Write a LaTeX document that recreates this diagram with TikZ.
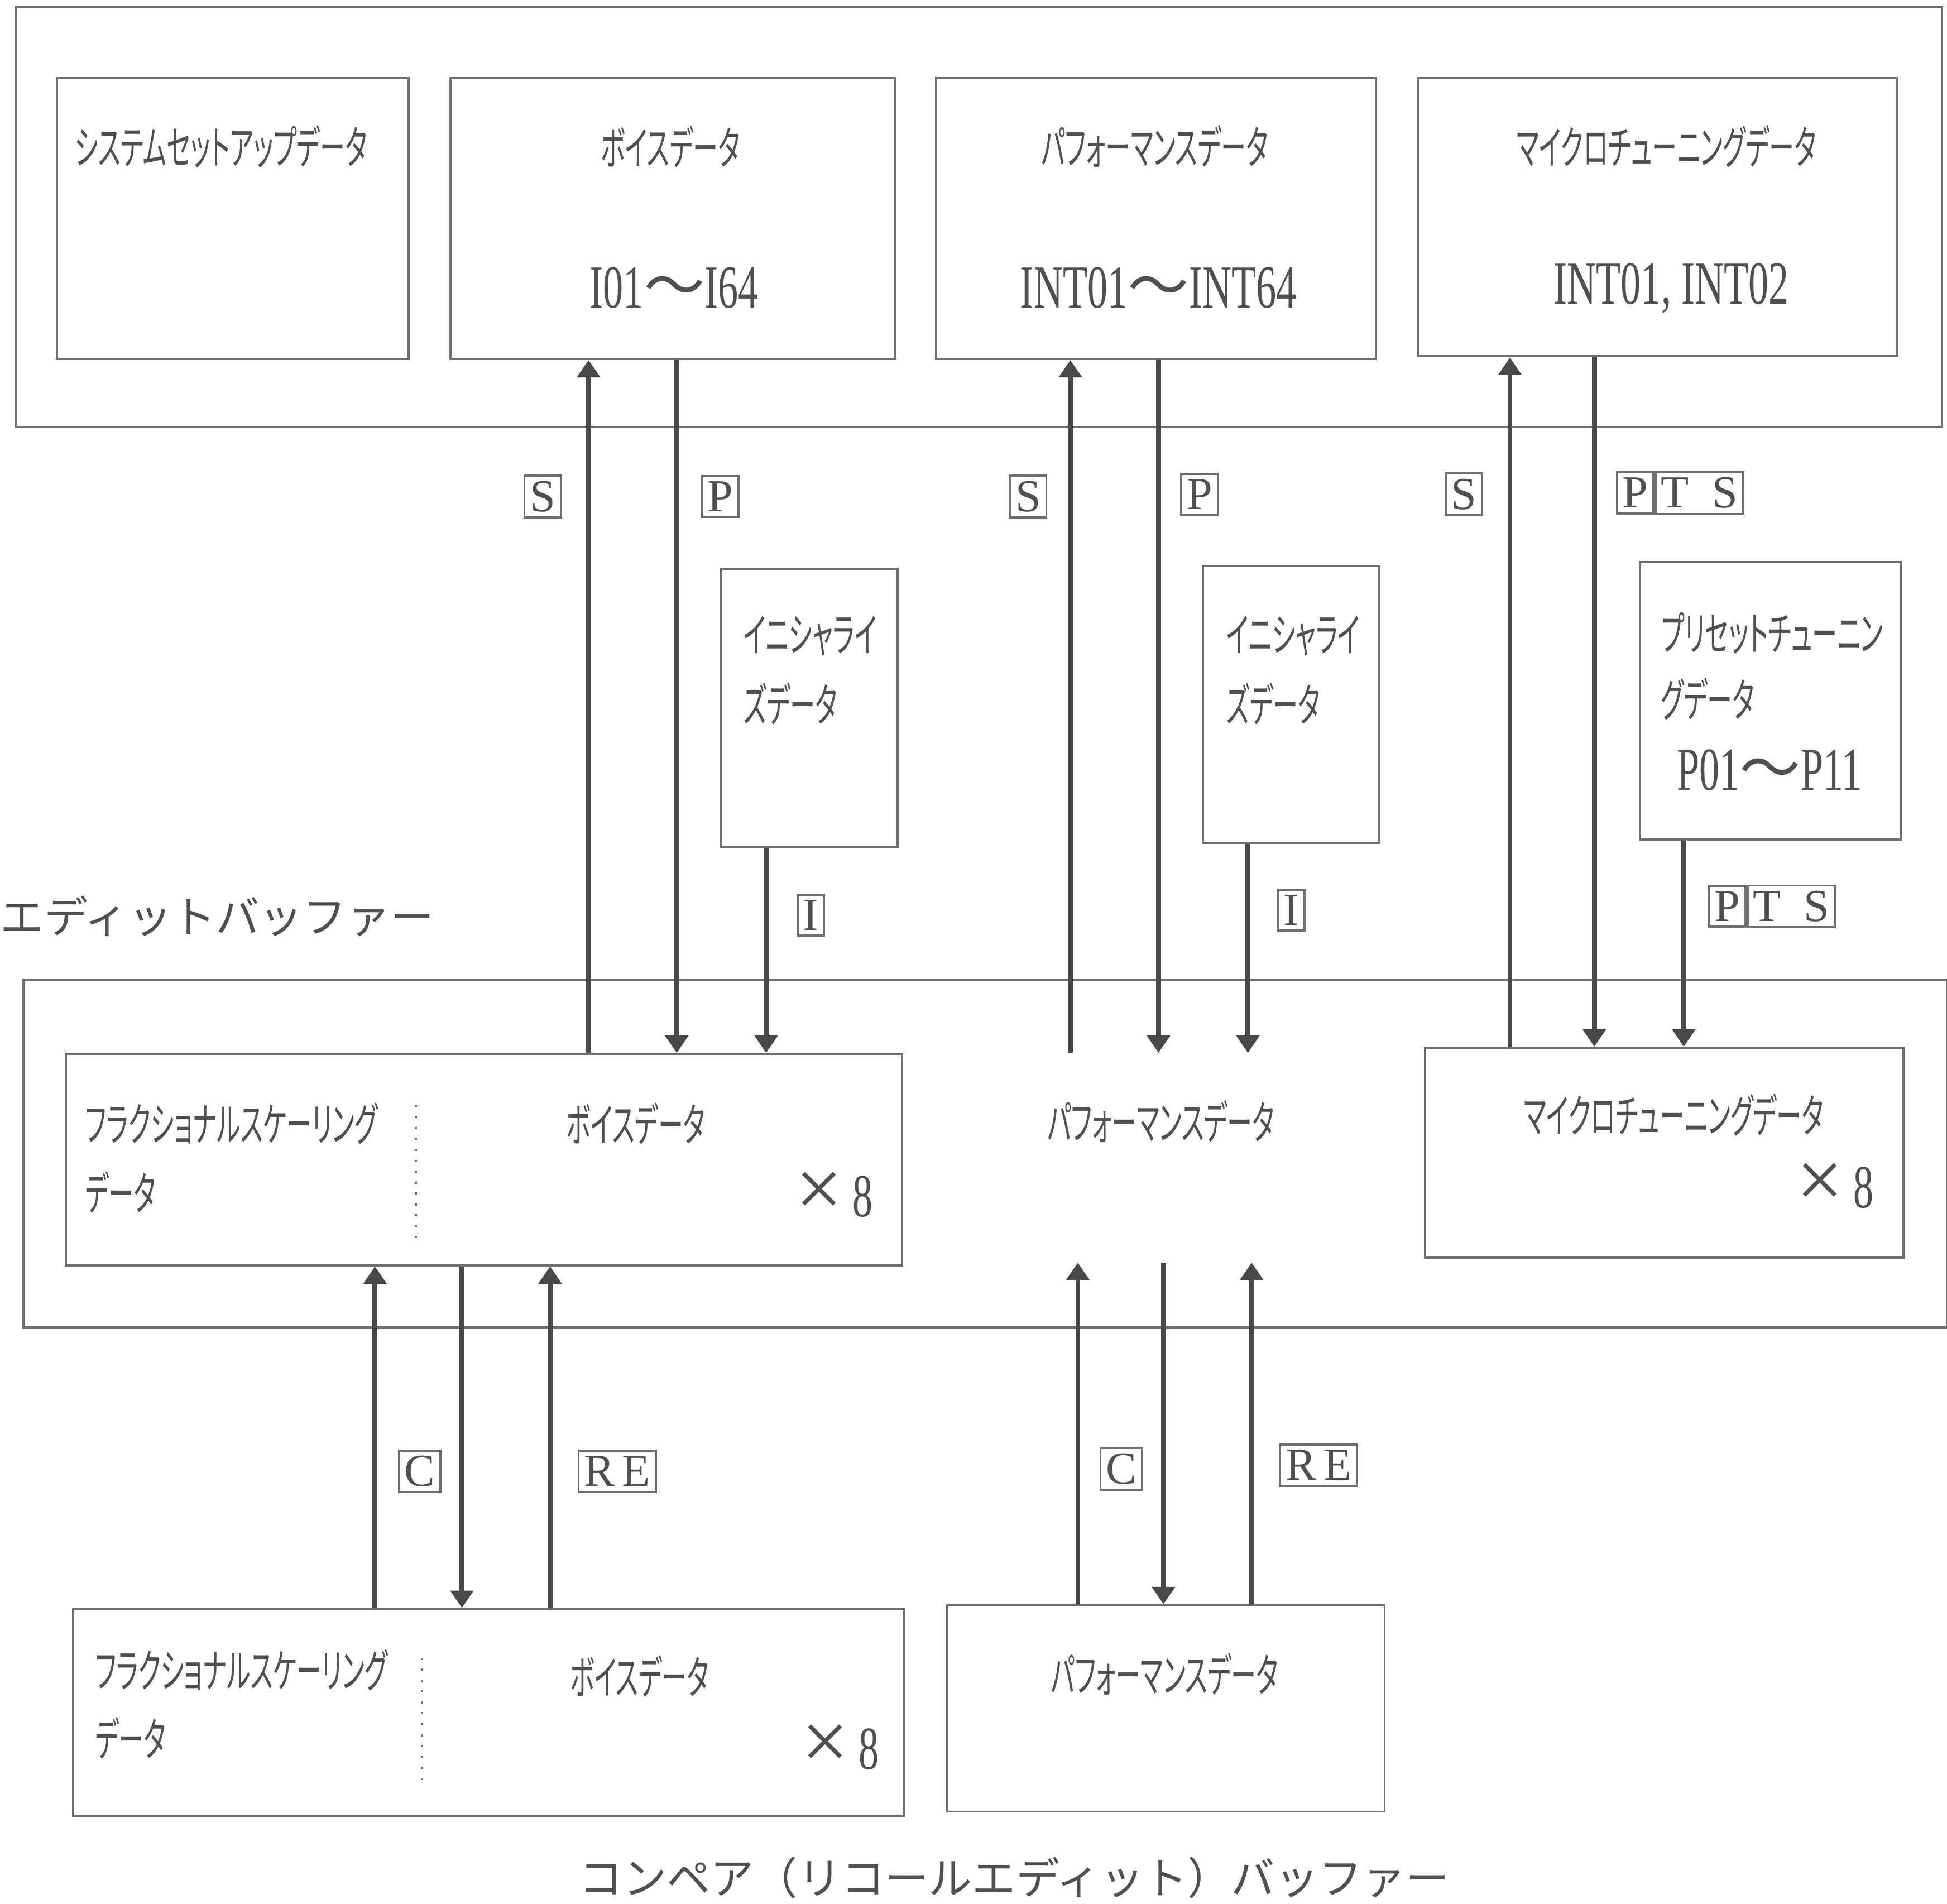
\documentclass[tikz,border=0pt]{standalone}
\usepackage{fontspec}
\usepackage{xcolor}
\usepackage{tikz}
\usetikzlibrary{arrows.meta}
\usetikzlibrary{positioning}

\newfontfamily\jpn{Noto Sans CJK JP}
\newfontfamily\jpnc[FakeStretch=0.55,RawFeature=+palt]{Noto Sans CJK JP}
\newfontfamily\numc[FakeStretch=0.66]{Liberation Serif}
\newfontfamily\keyf{Liberation Serif}

\definecolor{ink}{HTML}{4F4F4F}
\definecolor{edge}{HTML}{6E6E6E}
\definecolor{shaft}{HTML}{484848}

\setlength{\fboxsep}{1pt}
\setlength{\fboxrule}{0.5pt}
\newcommand{\kb}[1]{\fcolorbox{edge}{white}{#1}}
\newcommand{\rng}[2]{{\numc #1}{\jpn ～}{\numc #2}}
\newcommand{\byeight}{{\keyf\fontsize{19}{20}\selectfont ×}\,{\numc 8}}

\tikzset{
  box/.style={draw=edge, line width=0.5pt, anchor=north west, inner sep=0pt},
  flow/.style={-{Triangle[width=0.18cm,length=0.14cm]}, draw=shaft, line width=1.1pt},
  jp/.style={text=ink, inner sep=0pt, font=\jpnc\fontsize{10.5}{12}\selectfont},
  num/.style={text=ink, inner sep=0pt, font=\fontsize{14}{15}\selectfont},
  key/.style={text=ink, inner sep=0pt, font=\keyf\fontsize{10.5}{11}\selectfont},
  title/.style={text=ink, inner sep=0pt, font=\jpn\fontsize{10}{12}\selectfont},
  sep/.style={draw=edge, dotted, line width=0.5pt},
}

\begin{document}
\begin{tikzpicture}[x=0.01cm,y=-0.01cm]
\useasboundingbox (0,0) rectangle (1568,1533);

% internal memory
\node[box, minimum width=15.50cm, minimum height=3.38cm] (store) at (12,5) {};
\node[box, minimum width=2.83cm, minimum height=2.26cm] (sysT) at (45,62) {};
\node[box, minimum width=3.58cm, minimum height=2.26cm] (voiceT) at (362,62) {};
\node[box, minimum width=3.54cm, minimum height=2.26cm] (perfT) at (753,62) {};
\node[box, minimum width=3.86cm, minimum height=2.24cm] (microT) at (1141,62) {};
\node[jp] (sysTa) at (178,118) {システムセットアップデータ};
\node[jp] (voiceTa) at (540,118) {ボイスデータ};
\node[num] (voiceTb) at (543,232) {\rng{I01}{I64}};
\node[jp] (perfTa) at (930,118) {パフォーマンスデータ};
\node[num] (perfTb) at (933,232) {\rng{INT01}{INT64}};
\node[jp] (microTa) at (1342,118) {マイクロチューニングデータ};
\node[num] (microTb) at (1346,232) {{\numc INT01, INT02}};

% initial data
\node[box, minimum width=1.42cm, minimum height=2.24cm] (initV) at (580,457) {};
\node[box, minimum width=1.42cm, minimum height=2.23cm] (initP) at (968,455) {};
\node[box, minimum width=2.10cm, minimum height=2.23cm] (preset) at (1320,452) {};
\node[jp, anchor=west] (initVa) at (598,512) {イニシャライ};
\node[jp, anchor=west] (initVb) at (598,567) {ズデータ};
\node[jp, anchor=west] (initPa) at (987,512) {イニシャライ};
\node[jp, anchor=west] (initPb) at (987,567) {ズデータ};
\node[jp, anchor=west] (preseta) at (1337,510) {プリセットチューニン};
\node[jp, anchor=west] (presetb) at (1337,563) {グデータ};
\node[num] (presetc) at (1425,620) {\rng{P01}{P11}};

% edit buffer
\node[title] (editlbl) at (175,738) {エディットバッファー};
\node[box, minimum width=15.48cm, minimum height=2.80cm] (edit) at (18,788) {};
\node[box, minimum width=6.73cm, minimum height=1.70cm] (voiceE) at (52,848) {};
\node[box, draw=none, minimum width=3.48cm, minimum height=1.67cm] (perfE) at (762,848) {};
\node[box, minimum width=3.85cm, minimum height=1.69cm] (microE) at (1147,843) {};
\draw[sep] (335,890) -- (335,1000);
\node[jp, anchor=west] (voiceEa) at (68,905) {フラクショナルスケーリング};
\node[jp, anchor=west] (voiceEb) at (68,960) {データ};
\node[jp] (voiceEc) at (512,905) {ボイスデータ};
\node[num] (voiceEd) at (672,962) {\byeight};
\node[jp] (perfEa) at (935,903) {パフォーマンスデータ};
\node[jp] (microEa) at (1348,898) {マイクロチューニングデータ};
\node[num] (microEb) at (1478,955) {\byeight};

% compare buffer
\node[box, minimum width=6.69cm, minimum height=1.67cm] (voiceC) at (58,1295) {};
\node[box, minimum width=3.52cm, minimum height=1.66cm] (perfC) at (762,1292) {};
\draw[sep] (340,1335) -- (340,1440);
\node[jp, anchor=west] (voiceCa) at (76,1345) {フラクショナルスケーリング};
\node[jp, anchor=west] (voiceCb) at (76,1400) {データ};
\node[jp] (voiceCc) at (515,1350) {ボイスデータ};
\node[num] (voiceCd) at (677,1407) {\byeight};
\node[jp] (perfCa) at (938,1348) {パフォーマンスデータ};
\node[title] (cmplbl) at (817,1512) {コンペア（リコールエディット）バッファー};

% transfers
\foreach \xx/\from/\to in {474/voiceE/voiceT, 862/perfE/perfT, 1216/microE/microT,
    302/voiceC/voiceE, 443/voiceC/voiceE, 868/perfC/perfE, 1008/perfC/perfE}
  \draw[flow] (\from.north -| \xx,0) -- (\to.south -| \xx,0);
\foreach \xx/\from/\to in {545/voiceT/voiceE, 933/perfT/perfE, 1284/microT/microE,
    617/initV/voiceE, 1005/initP/perfE, 1356/preset/microE,
    372/voiceE/voiceC, 937/perfE/perfC}
  \draw[flow] (\from.south -| \xx,0) -- (\to.north -| \xx,0);

% keys
\node[key] (kS1) at (437,400) {\kb{S}};
\node[key] (kP1) at (580,400) {\kb{P}};
\node[key] (kI1) at (653,737) {\kb{I}};
\node[key] (kS2) at (828,400) {\kb{S}};
\node[key] (kP2) at (966,398) {\kb{P}};
\node[key] (kI2) at (1040,733) {\kb{I}};
\node[key] (kS3) at (1179,398) {\kb{S}};
\node[key] (kPTS1) at (1353,397) {\kb{P}\kb{T\enspace S}};
\node[key] (kPTS2) at (1427,730) {\kb{P}\kb{T\enspace S}};
\node[key] (kC1) at (338,1185) {\kb{C}};
\node[key] (kRE1) at (497,1185) {\kb{R\,E}};
\node[key] (kC2) at (903,1183) {\kb{C}};
\node[key] (kRE2) at (1062,1180) {\kb{R\,E}};
\end{tikzpicture}
\end{document}
